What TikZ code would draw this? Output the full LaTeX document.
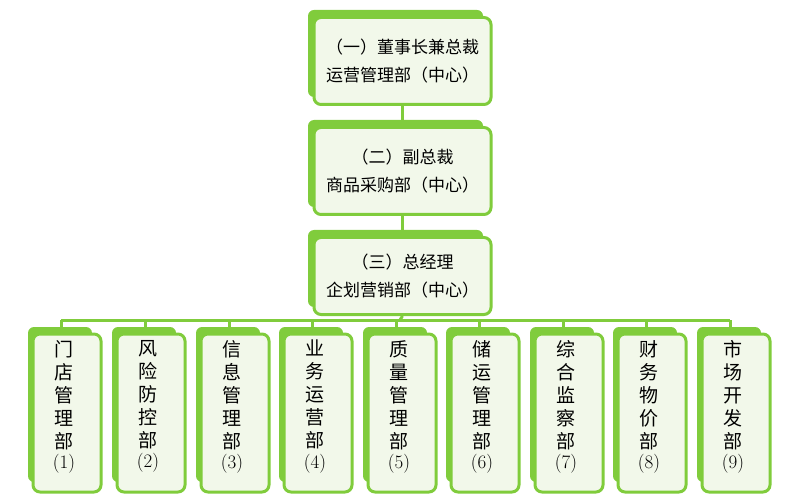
\documentclass[tikz,border=0pt]{standalone}
\usepackage{fontspec}
\newfontfamily\cjk{Noto Sans CJK SC}
\begin{document}
\begin{tikzpicture}[x=1pt,y=-1pt,
  gline/.style={draw=gr,line width=3pt},
  back/.style={fill=gr,rounded corners=6pt},
  front/.style={draw=gr,line width=3pt,fill=lt,rounded corners=7pt,inner sep=0pt,font=\cjk\fontsize{17}{28}\selectfont,align=center},
  vfront/.style={draw=gr,line width=3pt,fill=lt,rounded corners=7pt,inner sep=0pt}]
\definecolor{gr}{HTML}{80CC3C}
\definecolor{lt}{HTML}{F2F8EA}
\useasboundingbox (0,0) rectangle (805,502);
% top three boxes
\foreach \n/\ya/\yb/\t in {t1/10/105/{（一）董事长兼总裁\\运营管理部（中心）},t2/120/215/{（二）副总裁\\商品采购部（中心）},t3/230/315/{（三）总经理\\企划营销部（中心）}}{
  \fill[back] (308,\ya) rectangle (483,\yb-8);
  \node[front,minimum width=177pt,minimum height={\yb-\ya-8}] (\n) at (402.5,{(\ya+\yb)/2+3.5}) {\t};
}
\draw[gline] (t1.south) -- (t2.north);
\draw[gline] (t2.south) -- (t3.north);
% bottom boxes
\foreach \i/\x/\t in {1/64/{门\\店\\管\\理\\部},2/148/{风\\险\\防\\控\\部},3/232/{信\\息\\管\\理\\部},4/315/{业\\务\\运\\营\\部},5/399/{质\\量\\管\\理\\部},6/482/{储\\运\\管\\理\\部},7/566/{综\\合\\监\\察\\部},8/649/{财\\务\\物\\价\\部},9/733/{市\\场\\开\\发\\部}}{
  \fill[back] (\x-36,327) rectangle (\x+28,482);
  \node[vfront,minimum width=68pt,minimum height=158pt] (b\i) at (\x+3,413) {};
  \node[font=\cjk\fontsize{19}{23}\selectfont,align=center,anchor=north,inner sep=0pt] (c\i) at (\x+0,340) {\t};
  \node[font=\fontsize{19}{20}\selectfont,anchor=north,inner sep=0pt] (n\i) at ([yshift=-4pt]c\i.south) {(\i)};
  \coordinate (k\i) at (\x-3,320);
  \draw[gline] (k\i) -- (\x-3,327);
}
\draw[gline] (k1) -- (k9);
\draw[gline] (t3.south) -- (400,320);
\end{tikzpicture}
\end{document}
